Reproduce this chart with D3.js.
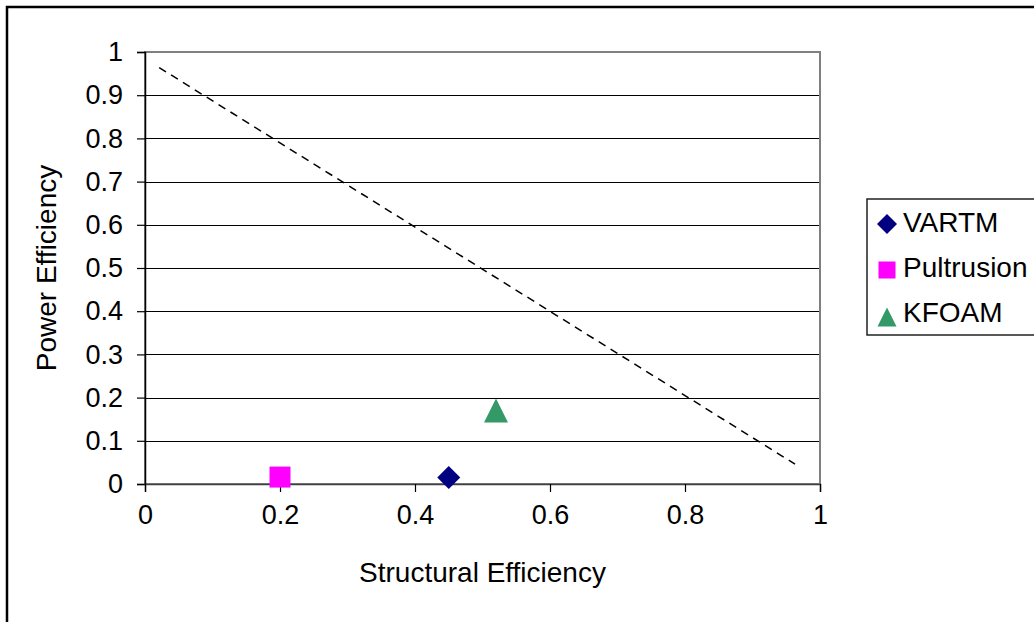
<!DOCTYPE html>
<html>
<head>
<meta charset="utf-8">
<script src="https://cdn.jsdelivr.net/npm/d3@7"></script>
<style>
    body { margin: 0; background: #fff; }
    text { font-family: "Liberation Sans", Arial, sans-serif; fill: #000; }
</style>
</head>
<body>
<script>
(function(){

    //series data
    var seriesNames = ["VARTM", "Pultrusion", "KFOAM"];
    var structuralEff = [0.45, 0.2, 0.52];
    var powerEff = [0.015, 0.016, 0.17];
    var seriesColors = ["#000080", "#ff00ff", "#339966"];
    var seriesShapes = ["diamond", "square", "triangle"];

    //dashed trend line end points
    var trendX = [0.021, 0.963];
    var trendY = [0.964, 0.046];

    //tick values
    var xTicks = [0, 0.2, 0.4, 0.6, 0.8, 1];
    var yTicks = [0, 0.1, 0.2, 0.3, 0.4, 0.5, 0.6, 0.7, 0.8, 0.9, 1];

    var width = 1034,
        height = 622;

    var svg = d3.select("body")
        .append("svg")
        .attr("width", width)
        .attr("height", height);

    //outer chart frame (runs off the right and bottom edges)
    svg.append("rect")
        .attr("x", 7)
        .attr("y", 7)
        .attr("width", 1100)
        .attr("height", 700)
        .attr("fill", "none")
        .attr("stroke", "#000")
        .attr("stroke-width", 2.5);

    var plotLeft = 145, plotRight = 820, plotTop = 52, plotBottom = 484;

    var xScale = d3.scaleLinear().domain([0, 1]).range([plotLeft, plotRight]);
    var yScale = d3.scaleLinear().domain([0, 1]).range([plotBottom, plotTop]);

    //gridlines
    svg.append("g")
        .selectAll("line")
        .data(yTicks.filter(function(d){ return d > 0 && d < 1; }))
        .enter()
        .append("line")
        .attr("x1", plotLeft)
        .attr("x2", plotRight)
        .attr("y1", function(d){ return Math.round(yScale(d)) + 0.5; })
        .attr("y2", function(d){ return Math.round(yScale(d)) + 0.5; })
        .attr("stroke", "#000")
        .attr("stroke-width", 1);

    //plot area border
    svg.append("rect")
        .attr("x", plotLeft)
        .attr("y", plotTop)
        .attr("width", plotRight - plotLeft)
        .attr("height", plotBottom - plotTop)
        .attr("fill", "none")
        .attr("stroke", "#808080")
        .attr("stroke-width", 2);

    //y axis
    var yAxis = d3.axisLeft(yScale)
        .tickValues(yTicks)
        .tickSize(8)
        .tickPadding(14)
        .tickFormat(d3.format("~g"));

    var yAxisG = svg.append("g")
        .attr("transform", "translate(" + plotLeft + ",0)")
        .call(yAxis);

    //x axis
    var xAxis = d3.axisBottom(xScale)
        .tickValues(xTicks)
        .tickSize(8)
        .tickPadding(13)
        .tickFormat(d3.format("~g"));

    var xAxisG = svg.append("g")
        .attr("transform", "translate(0," + plotBottom + ")")
        .call(xAxis);

    [xAxisG, yAxisG].forEach(function(g){
        g.select(".domain").attr("stroke", "#000").attr("stroke-width", 1.5);
        g.selectAll(".tick line").attr("stroke", "#000").attr("stroke-width", 1.2);
        g.selectAll(".tick text")
            .attr("fill", "#000")
            .style("font-size", "27px")
            .style("font-family", "'Liberation Sans', Arial, sans-serif");
    });
    xAxisG.select(".domain").attr("stroke", "#404040");

    //dashed trend line
    var line = d3.line()
        .x(function(d){ return xScale(d[0]); })
        .y(function(d){ return yScale(d[1]); });

    svg.append("path")
        .datum(d3.zip(trendX, trendY))
        .attr("d", line)
        .attr("fill", "none")
        .attr("stroke", "#000")
        .attr("stroke-width", 1.5)
        .attr("stroke-dasharray", "8,6");

    //marker path generator
    function markerPath(shape, s){
        var h = s / 2;
        if (shape == "diamond"){
            return "M0," + (-h) + "L" + h + ",0L0," + h + "L" + (-h) + ",0Z";
        } else if (shape == "square"){
            return "M" + (-h) + "," + (-h) + "H" + h + "V" + h + "H" + (-h) + "Z";
        } else {
            return "M0," + (-h) + "L" + h + "," + h + "L" + (-h) + "," + h + "Z";
        }
    }
    var markerSize = [23, 21, 24];

    //points
    svg.append("g")
        .selectAll("path")
        .data(seriesNames)
        .enter()
        .append("path")
        .attr("transform", function(d, i){
            return "translate(" + xScale(structuralEff[i]) + "," + yScale(powerEff[i]) + ")";
        })
        .attr("d", function(d, i){ return markerPath(seriesShapes[i], markerSize[i]); })
        .attr("fill", function(d, i){ return seriesColors[i]; });

    //axis titles
    svg.append("text")
        .attr("x", (plotLeft + plotRight) / 2)
        .attr("y", 582)
        .attr("text-anchor", "middle")
        .style("font-size", "28px")
        .text("Structural Efficiency");

    svg.append("text")
        .attr("transform", "translate(56," + (plotTop + plotBottom) / 2 + ") rotate(-90)")
        .attr("text-anchor", "middle")
        .style("font-size", "28px")
        .text("Power Efficiency");

    //legend
    var legend = svg.append("g")
        .attr("transform", "translate(867,199)");

    legend.append("rect")
        .attr("width", 180)
        .attr("height", 136)
        .attr("fill", "#fff")
        .attr("stroke", "#222")
        .attr("stroke-width", 1.5);

    var legendSize = [20, 17, 19];
    var items = legend.selectAll(".legendItem")
        .data(seriesNames)
        .enter()
        .append("g")
        .attr("class", "legendItem")
        .attr("transform", function(d, i){ return "translate(0," + (i * 45) + ")"; });

    items.append("path")
        .attr("transform", function(d, i){ return "translate(20," + (25 + (i == 2 ? 3 : 0) + (i == 1 ? 1 : 0)) + ")"; })
        .attr("d", function(d, i){ return markerPath(seriesShapes[i], legendSize[i]); })
        .attr("fill", function(d, i){ return seriesColors[i]; });

    items.append("text")
        .attr("x", 36)
        .attr("y", 33)
        .style("font-size", "28px")
        .text(function(d){ return d; });

})();
</script>
</body>
</html>
